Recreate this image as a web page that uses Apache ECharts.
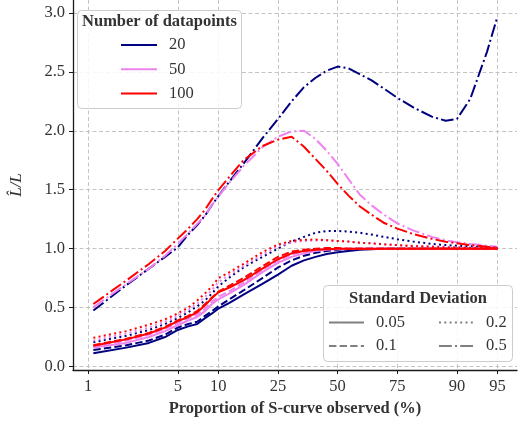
<!DOCTYPE html>
<html>
<head>
<meta charset="utf-8">
<script src="https://cdn.jsdelivr.net/npm/echarts@6/dist/echarts.min.js"></script>
<style>
  html, body { margin: 0; padding: 0; background: #ffffff; }
  #chart { width: 518px; height: 423px; }
</style>
</head>
<body>
<div id="chart"></div>
<script>
// Proportion of the S-curve observed (%) at which each ratio was evaluated
const proportions = [1.1, 2, 3, 4, 5, 6, 7, 8, 9, 10, 12, 15, 20, 25, 30, 35, 40, 45, 50,
                     55, 60, 65, 70, 75, 80, 85, 88, 90, 92, 94, 95];

// Tick labels
const xTickPercents = [1, 5, 10, 25, 50, 75, 90, 95];
const yTickValues = [0, 0.5, 1.0, 1.5, 2.0, 2.5, 3.0];

// Legend groups
const datapointCounts = ['20', '50', '100'];
const deviations = ['0.05', '0.1', '0.2', '0.5'];

// Estimated L / true L, 20 datapoints
const n20_sd005 = [0.112, 0.16, 0.20, 0.25, 0.31, 0.34, 0.36, 0.41, 0.45, 0.49, 0.54, 0.61, 0.70, 0.78, 0.855, 0.90, 0.93, 0.955, 0.97,
                   0.98, 0.99, 0.995, 1.0, 1.0, 1.0, 1.0, 1.0, 1.0, 1.0, 1.0, 1.0];
const n20_sd01  = [0.14, 0.18, 0.22, 0.27, 0.33, 0.36, 0.38, 0.43, 0.47, 0.51, 0.57, 0.645, 0.75, 0.84, 0.90, 0.94, 0.965, 0.98, 0.99,
                   0.995, 1.0, 1.0, 1.0, 1.0, 1.0, 1.0, 1.0, 1.0, 1.0, 1.0, 1.0];
const n20_sd02  = [0.205, 0.26, 0.31, 0.36, 0.41, 0.46, 0.51, 0.56, 0.62, 0.68, 0.755, 0.84, 0.93, 1.0, 1.06, 1.10, 1.135, 1.15, 1.15,
                   1.145, 1.135, 1.12, 1.10, 1.08, 1.06, 1.04, 1.03, 1.025, 1.02, 1.015, 1.01];
const n20_sd05  = [0.475, 0.69, 0.83, 0.93, 1.01, 1.12, 1.20, 1.28, 1.37, 1.445, 1.57, 1.72, 1.935, 2.10, 2.25, 2.37, 2.45, 2.51, 2.545,
                   2.53, 2.48, 2.43, 2.36, 2.28, 2.20, 2.12, 2.085, 2.10, 2.27, 2.67, 2.97];

// 50 datapoints
const n50_sd005 = [0.16, 0.20, 0.25, 0.30, 0.35, 0.39, 0.42, 0.47, 0.53, 0.57, 0.62, 0.69, 0.80, 0.88, 0.93, 0.96, 0.98, 0.99, 0.995,
                   1.0, 1.0, 1.0, 1.0, 1.0, 1.0, 1.0, 1.0, 1.0, 1.0, 1.0, 1.0];
const n50_sd01  = [0.17, 0.22, 0.27, 0.32, 0.37, 0.41, 0.44, 0.49, 0.55, 0.59, 0.64, 0.71, 0.82, 0.90, 0.95, 0.975, 0.99, 1.0, 1.0,
                   1.0, 1.0, 1.0, 1.0, 1.0, 1.0, 1.0, 1.0, 1.0, 1.0, 1.0, 1.0];
const n50_sd02  = [0.22, 0.28, 0.33, 0.38, 0.43, 0.48, 0.535, 0.59, 0.65, 0.715, 0.78, 0.85, 0.95, 1.02, 1.05, 1.065, 1.07, 1.07, 1.065,
                   1.06, 1.05, 1.045, 1.04, 1.03, 1.025, 1.02, 1.015, 1.01, 1.01, 1.01, 1.01];
const n50_sd05  = [0.503, 0.70, 0.83, 0.94, 1.04, 1.13, 1.21, 1.28, 1.37, 1.445, 1.56, 1.70, 1.86, 1.95, 1.995, 2.0, 1.93, 1.83, 1.72,
                   1.59, 1.46, 1.37, 1.29, 1.215, 1.155, 1.10, 1.07, 1.055, 1.04, 1.025, 1.015];

// 100 datapoints
const n100_sd005 = [0.175, 0.23, 0.28, 0.33, 0.385, 0.42, 0.46, 0.52, 0.58, 0.63, 0.67, 0.73, 0.83, 0.91, 0.96, 0.98, 0.99, 0.995, 1.0,
                    1.0, 1.0, 1.0, 1.0, 1.0, 1.0, 1.0, 1.0, 1.0, 1.0, 1.0, 1.0];
const n100_sd01  = [0.18, 0.235, 0.285, 0.335, 0.39, 0.43, 0.47, 0.53, 0.585, 0.635, 0.685, 0.75, 0.85, 0.93, 0.975, 0.99, 1.0, 1.005, 1.005,
                    1.0, 1.0, 1.0, 1.0, 1.0, 1.0, 1.0, 1.0, 1.0, 1.0, 1.0, 1.0];
const n100_sd02  = [0.243, 0.30, 0.355, 0.40, 0.45, 0.50, 0.56, 0.62, 0.68, 0.75, 0.80, 0.87, 0.97, 1.035, 1.065, 1.075, 1.077, 1.072, 1.065,
                    1.06, 1.05, 1.045, 1.035, 1.03, 1.02, 1.015, 1.01, 1.01, 1.005, 1.005, 1.005];
const n100_sd05  = [0.53, 0.73, 0.87, 0.98, 1.085, 1.17, 1.25, 1.33, 1.42, 1.496, 1.61, 1.75, 1.87, 1.925, 1.95, 1.865, 1.76, 1.66, 1.55,
                    1.45, 1.36, 1.29, 1.22, 1.17, 1.125, 1.083, 1.058, 1.046, 1.03, 1.015, 1.01];

const FONT = 'Liberation Serif';
const TEXT_COLOR = '#333333';
const colors = { '20': '#000080', '50': '#EE82EE', '100': '#FF0000' };
const dashes = {
  '0.05': 'solid',
  '0.1': [7.4, 3.2],
  '0.2': [2, 3.3],
  '0.5': [12.8, 3.2, 2, 3.2]
};
const table = {
  '20':  { '0.05': n20_sd005,  '0.1': n20_sd01,  '0.2': n20_sd02,  '0.5': n20_sd05 },
  '50':  { '0.05': n50_sd005,  '0.1': n50_sd01,  '0.2': n50_sd02,  '0.5': n50_sd05 },
  '100': { '0.05': n100_sd005, '0.1': n100_sd01, '0.2': n100_sd02, '0.5': n100_sd05 }
};

// The x axis is a logit scale: positions are log(p / (1 - p))
const logit = p => Math.log(p / (100 - p));
const fromLogit = v => 100 / (1 + Math.exp(-v));

const series = [];
datapointCounts.forEach(n => {
  deviations.forEach(sd => {
    series.push({
      name: n + ' / ' + sd,
      type: 'line',
      symbol: 'none',
      animation: false,
      clip: true,
      lineStyle: { color: colors[n], width: 2, type: dashes[sd] },
      itemStyle: { color: colors[n] },
      data: proportions.map((p, i) => [logit(p), table[n][sd][i]])
    });
  });
});
// Legend-only entries
datapointCounts.forEach(n => {
  series.push({
    name: n, type: 'line', symbol: 'none', data: [], animation: false,
    lineStyle: { color: colors[n], width: 2, type: 'solid' },
    itemStyle: { color: colors[n] }
  });
});
deviations.forEach(sd => {
  series.push({
    name: sd, type: 'line', symbol: 'none', data: [], animation: false,
    lineStyle: { color: '#808080', width: 2.6, type: dashes[sd] },
    itemStyle: { color: '#808080' }
  });
});

const legendText = { fontFamily: FONT, fontSize: 16.5, color: TEXT_COLOR, padding: [0, 0, 0, 7] };
const legendBase = {
  orient: 'vertical', padding: 0, itemWidth: 36, itemHeight: 14,
  selectedMode: false, textStyle: legendText,
  itemStyle: { opacity: 0, color: 'transparent', borderWidth: 0 }
};

const chart = echarts.init(document.getElementById('chart'), null, { renderer: 'canvas' });
chart.setOption({
  animation: false,
  backgroundColor: '#ffffff',
  grid: { left: 64, right: 1, top: 0, bottom: 53, containLabel: false },
  xAxis: {
    type: 'value',
    min: -4.874,
    max: 3.304,
    name: 'Proportion of S-curve observed (%)',
    nameLocation: 'middle',
    nameGap: 30,
    nameTextStyle: { fontFamily: FONT, fontSize: 16.5, fontWeight: 'bold', color: TEXT_COLOR },
    axisLine: { show: true, onZero: false, lineStyle: { color: '#1a1a1a', width: 1.3 } },
    axisTick: { show: true, length: 4, lineStyle: { color: '#1a1a1a' },
                customValues: xTickPercents.map(logit) },
    axisLabel: {
      customValues: xTickPercents.map(logit),
      formatter: v => String(Math.round(fromLogit(v))),
      fontFamily: FONT, fontSize: 16.5, color: TEXT_COLOR, margin: 8
    },
    splitLine: { show: true, lineStyle: { color: '#c4c4c4', width: 1, type: [4, 2.5] } }
  },
  yAxis: {
    type: 'value',
    min: -0.03,
    max: 3.11,
    name: 'L\u0302/L',
    nameLocation: 'middle',
    nameGap: 48,
    nameRotate: 90,
    nameTextStyle: { fontFamily: FONT, fontStyle: 'italic', fontSize: 17, color: TEXT_COLOR },
    axisLine: { show: true, onZero: false, lineStyle: { color: '#1a1a1a', width: 1.3 } },
    axisTick: { show: true, length: 4, lineStyle: { color: '#1a1a1a' }, customValues: yTickValues },
    axisLabel: {
      customValues: yTickValues,
      formatter: v => v.toFixed(1),
      fontFamily: FONT, fontSize: 16.5, color: TEXT_COLOR, margin: 8
    },
    splitLine: { show: true, lineStyle: { color: '#c4c4c4', width: 1, type: [4, 2.5] } }
  },
  legend: [
    Object.assign({}, legendBase, { data: datapointCounts, left: 120, top: 36.5, itemGap: 7.2 }),
    Object.assign({}, legendBase, { data: ['0.05', '0.1'], left: 328, top: 314, itemWidth: 35, itemGap: 6.6 }),
    Object.assign({}, legendBase, { data: ['0.2', '0.5'], left: 438, top: 314, itemWidth: 35, itemGap: 6.6 })
  ],
  graphic: [
    { type: 'rect', z: 3, shape: { x: 77.5, y: 10.5, width: 164, height: 98, r: 4 },
      style: { fill: 'rgba(255,255,255,0.85)', stroke: '#cccccc', lineWidth: 1 } },
    { type: 'text', z: 5, x: 159.5, y: 21.7,
      style: { text: 'Number of datapoints', fontFamily: FONT, fontSize: 16.5, fontWeight: 'bold',
               fill: TEXT_COLOR, align: 'center', verticalAlign: 'middle' } },
    { type: 'rect', z: 3, shape: { x: 323.5, y: 285.5, width: 189, height: 76, r: 4 },
      style: { fill: 'rgba(255,255,255,0.85)', stroke: '#cccccc', lineWidth: 1 } },
    { type: 'text', z: 5, x: 418, y: 298.5,
      style: { text: 'Standard Deviation', fontFamily: FONT, fontSize: 16.5, fontWeight: 'bold',
               fill: TEXT_COLOR, align: 'center', verticalAlign: 'middle' } }
  ],
  series: series
});
</script>
</body>
</html>
